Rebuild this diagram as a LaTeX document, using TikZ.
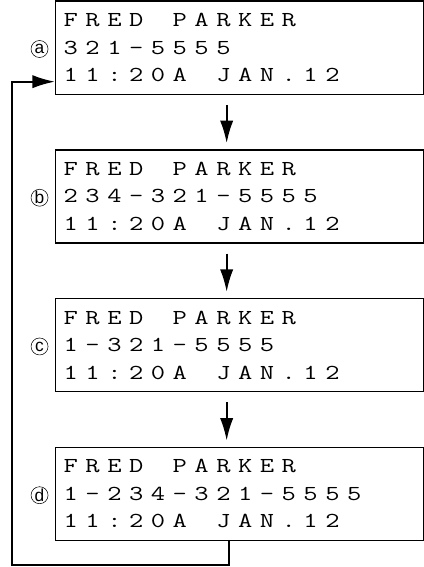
\documentclass[tikz,border=0pt]{standalone}
\usepackage{fontspec}
\setsansfont{Liberation Sans}
\usepackage{graphicx}
\usepackage{tikz}
\usetikzlibrary{
  calc,%
  positioning,%
  arrows.meta
}
\tikzset{>={Latex[length=17pt,width=10pt]}}
% spread the display characters to a fixed pitch
\newcommand\lcd[1]{\lcdloop#1\relax}
\def\lcdloop#1{\ifx#1\relax\else
  \makebox[16.35pt][l]{\scalebox{1.3}[1]{#1}}\expandafter\lcdloop\fi}
\tikzset{
  screen/.style={draw, line width=1pt, rectangle, align=left,
    text width=264pt, minimum height=69.75pt, inner xsep=6pt, inner ysep=0pt,
    font=\ttfamily\fontsize{16}{20.6}\selectfont},
  tag/.style={draw, circle, thin, minimum size=12.75pt, inner sep=0pt,
    font=\sffamily\fontsize{13}{13}\selectfont},
  flow/.style={->, line width=1.6pt}
}

\begin{document}
\begin{tikzpicture}[x=0.75pt, y=0.75pt]
  \useasboundingbox (0,0) rectangle (424,-567);
  % the four display screens
  \node[screen, anchor=north west] (a) at (55,-0.5)
    {\lcd{FRED~PARKER}\\\lcd{321-5555}\\\lcd{11:20A~JAN.12}};
  \node[screen, below=40.8pt of a] (b)
    {\lcd{FRED~PARKER}\\\lcd{234-321-5555}\\\lcd{11:20A~JAN.12}};
  \node[screen, below=40.8pt of b] (c)
    {\lcd{FRED~PARKER}\\\lcd{1-321-5555}\\\lcd{11:20A~JAN.12}};
  \node[screen, below=40.8pt of c] (d)
    {\lcd{FRED~PARKER}\\\lcd{1-234-321-5555}\\\lcd{11:20A~JAN.12}};
  % circled letters
  \foreach \s in {a,b,c,d}
    \node[tag, left=5pt of \s, yshift=-1pt] (tag\s) {\s};
  % arrows between the screens
  \foreach \u/\v in {a/b,b/c,c/d}
    \draw[flow] ($(\u.south)+(-13,-10)$) -- ($(\v.north)+(-13,6)$);
  % back to the first screen
  \coordinate (ret) at ($(a.west)+(-43,-34)$);
  \draw[flow] ($(d.south)+(-11,0)$) -- ++(0,-24) -| (ret) -- (ret -| a.west);
\end{tikzpicture}
\end{document}
